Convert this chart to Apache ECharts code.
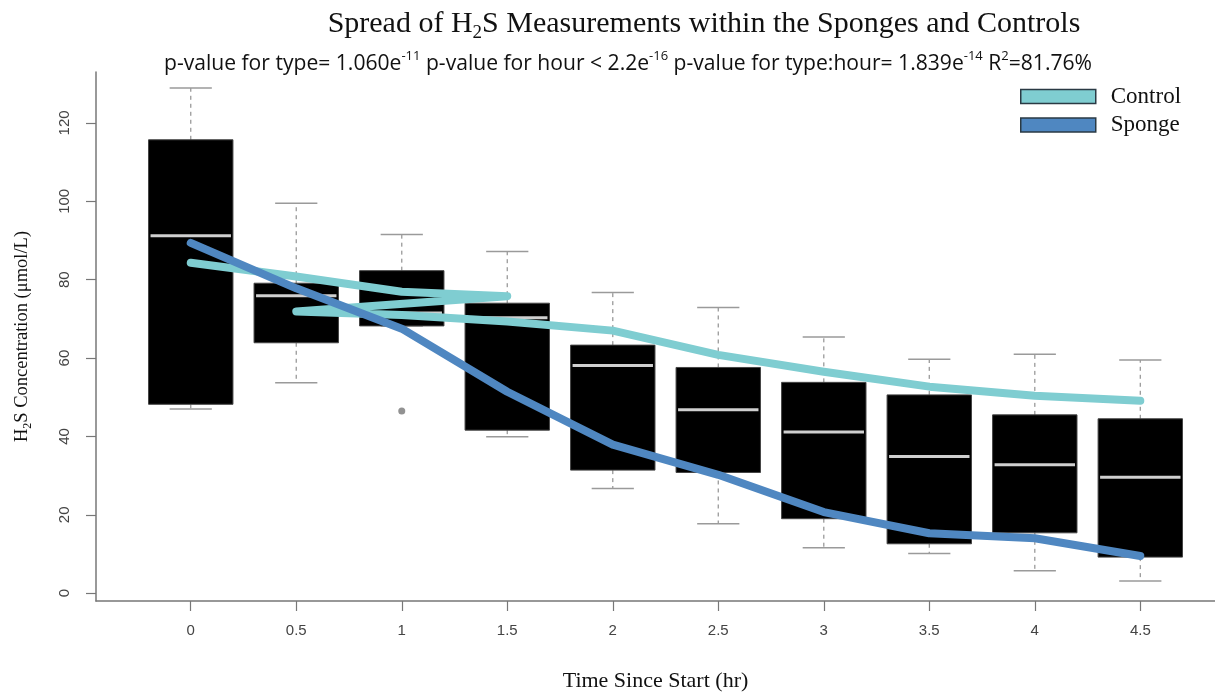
<!DOCTYPE html>
<html>
<head>
<meta charset="utf-8">
<script src="https://cdn.jsdelivr.net/npm/echarts@6/dist/echarts.min.js"></script>
<style>
html,body{margin:0;padding:0;background:#fff;}
#chart{width:1215px;height:694px;}
</style>
</head>
<body>
<div id="chart"></div>
<script>
// ---- data ----
const hours = [0, 0.5, 1, 1.5, 2, 2.5, 3, 3.5, 4, 4.5];
const tickLabels = ['0', '0.5', '1', '1.5', '2', '2.5', '3', '3.5', '4', '4.5'];
const yTicks = [0, 20, 40, 60, 80, 100, 120];
// boxplot stats per hour: [min, Q1, median, Q3, max]
const boxMin    = [47.0, 53.7, 68.2, 39.9, 26.7, 17.7, 11.6, 10.1, 5.7, 3.1];
const boxQ1     = [48.2, 63.9, 68.2, 41.6, 31.4, 30.8, 19.0, 12.6, 15.4, 9.2];
const boxMedian = [91.2, 75.9, 71.5, 70.3, 58.1, 46.8, 41.1, 34.9, 32.8, 29.6];
const boxQ3     = [115.7, 79.1, 82.3, 74.0, 63.3, 57.6, 53.8, 50.6, 45.5, 44.5];
const boxMax    = [128.9, 99.5, 91.5, 87.2, 76.7, 72.9, 65.4, 59.7, 61.0, 59.5];
const outliers  = [[1, 46.5]];
// smoothed trend lines
const controlX = [0, 0.5, 1, 1.5, 0.5, 1, 1.5, 2, 2.5, 3, 3.5, 4, 4.5];
const controlY = [84.3, 80.8, 76.9, 75.8, 71.9, 71.0, 69.3, 67.0, 60.8, 56.5, 52.7, 50.4, 49.1];
const spongeX  = [0, 0.5, 1, 1.5, 2, 2.5, 3, 3.5, 4, 4.5];
const spongeY  = [89.4, 77.8, 67.5, 51.4, 37.9, 30.2, 20.7, 15.3, 14.0, 9.5];

const boxData = hours.map((h, i) => [h, boxMin[i], boxQ1[i], boxMedian[i], boxQ3[i], boxMax[i]]);
const controlData = controlX.map((x, i) => [x, controlY[i]]);
const spongeData = spongeX.map((x, i) => [x, spongeY[i]]);

const BOX_W = 0.4;   // in hours
const CAP_W = 0.2;

function renderBox(params, api) {
  const x = api.value(0);
  const lo = api.coord([x, api.value(1)]);
  const q1 = api.coord([x, api.value(2)]);
  const md = api.coord([x, api.value(3)]);
  const q3 = api.coord([x, api.value(4)]);
  const hi = api.coord([x, api.value(5)]);
  const hw = api.size([BOX_W, 0])[0] / 2;
  const cw = api.size([CAP_W, 0])[0] / 2;
  const cx = lo[0];
  const wStyle = {stroke: '#9a9a9a', lineWidth: 1.3, lineDash: [4, 4]};
  const cStyle = {stroke: '#9a9a9a', lineWidth: 1.5};
  return {
    type: 'group',
    children: [
      {type: 'line', shape: {x1: cx, y1: q3[1], x2: cx, y2: hi[1]}, style: wStyle},
      {type: 'line', shape: {x1: cx, y1: q1[1], x2: cx, y2: lo[1]}, style: wStyle},
      {type: 'line', shape: {x1: cx - cw, y1: hi[1], x2: cx + cw, y2: hi[1]}, style: cStyle},
      {type: 'line', shape: {x1: cx - cw, y1: lo[1], x2: cx + cw, y2: lo[1]}, style: cStyle},
      {type: 'rect', shape: {x: cx - hw, y: q3[1], width: hw * 2, height: q1[1] - q3[1]},
        style: {fill: '#000', stroke: '#444', lineWidth: 1}},
      {type: 'line', shape: {x1: cx - hw + 2, y1: md[1], x2: cx + hw - 2, y2: md[1]},
        style: {stroke: '#cfcfcf', lineWidth: 3}}
    ]
  };
}

const chart = echarts.init(document.getElementById('chart'), null, {renderer: 'canvas'});
const option = {
  backgroundColor: '#fff',
  animation: false,
  title: [
    {
      text: '{a|Spread of H}{s|2}{a|S Measurements within the Sponges and Controls}',
      left: 699, top: 0, textAlign: 'center',
      textStyle: {
        fontWeight: 'normal',
        rich: {
          a: {fontFamily: 'Liberation Serif', fontSize: 30, fontWeight: 'normal', color: '#111', lineHeight: 38},
          s: {fontFamily: 'Liberation Serif', fontSize: 19, fontWeight: 'normal', color: '#111', lineHeight: 19, verticalAlign: 'bottom'}
        }
      }
    },
    {
      text: '{a|p-value for type= 1.060e}{p|-11}{a| p-value for hour < 2.2e}{p|-16}{a| p-value for type:hour= 1.839e}{p|-14}{a| R}{p|2}{a|=81.76%}',
      left: 623, top: 45, textAlign: 'center',
      textStyle: {
        fontWeight: 'normal',
        rich: {
          a: {fontFamily: 'Open Sans', fontSize: 21.1, fontWeight: 'normal', color: '#111', lineHeight: 28},
          p: {fontFamily: 'Open Sans', fontSize: 13, fontWeight: 'normal', color: '#111', lineHeight: 13, verticalAlign: 'top'}
        }
      }
    }
  ],
  legend: {
    orient: 'vertical',
    left: 1020, top: 85, padding: 0,
    icon: 'rect',
    itemWidth: 75, itemHeight: 14, itemGap: 5.5,
    itemStyle: {borderColor: '#2a3a44', borderWidth: 1.5},
    textStyle: {fontFamily: 'Liberation Serif', fontSize: 23, lineHeight: 23, color: '#111', padding: [0, 0, 0, 10]},
    data: ['Control', 'Sponge']
  },
  grid: {left: 96, right: 0, top: 72, bottom: 93, containLabel: false, outerBoundsMode: 'none'},
  xAxis: {
    type: 'value',
    min: -0.449, max: 4.854,
    name: 'Time Since Start (hr)',
    nameLocation: 'middle', nameGap: 69,
    nameTextStyle: {fontFamily: 'Liberation Serif', fontSize: 22, color: '#111'},
    axisLine: {show: true, onZero: false, lineStyle: {color: '#777', width: 1.5}},
    axisTick: {show: true, length: 10, customValues: hours, lineStyle: {color: '#777', width: 1.2}},
    axisLabel: {
      customValues: hours,
      formatter: v => tickLabels[hours.indexOf(Math.round(v * 2) / 2)],
      fontFamily: 'Liberation Sans Narrow, Liberation Sans', fontSize: 15, color: '#444', margin: 22
    },
    splitLine: {show: false}
  },
  yAxis: {
    type: 'value',
    min: -2, max: 133,
    name: '{a|H}{s|2}{a|S Concentration (μmol/L)}',
    nameLocation: 'middle', nameGap: 62, nameRotate: 90,
    nameTextStyle: {
      rich: {
        a: {fontFamily: 'Liberation Serif', fontSize: 18.5, color: '#111', lineHeight: 24},
        s: {fontFamily: 'Liberation Serif', fontSize: 12, color: '#111', lineHeight: 12, verticalAlign: 'bottom'}
      }
    },
    axisLine: {show: true, onZero: false, lineStyle: {color: '#777', width: 1.5}},
    axisTick: {show: true, length: 10, customValues: yTicks, lineStyle: {color: '#777', width: 1.2}},
    axisLabel: {
      customValues: yTicks,
      rotate: 90,
      fontFamily: 'Liberation Sans Narrow, Liberation Sans', fontSize: 15, color: '#444', margin: 24
    },
    splitLine: {show: false}
  },
  series: [
    {
      type: 'custom',
      name: 'Boxes',
      renderItem: renderBox,
      encode: {x: 0, y: [1, 2, 3, 4, 5]},
      data: boxData,
      z: 1
    },
    {
      type: 'scatter',
      name: 'Outliers',
      data: outliers,
      symbolSize: 7,
      itemStyle: {color: '#777'},
      z: 2
    },
    {
      type: 'line',
      name: 'Control',
      data: controlData,
      showSymbol: false,
      smooth: false,
      color: '#7fcdd1',
      itemStyle: {color: '#7fcdd1'},
      lineStyle: {color: '#7fcdd1', width: 8, cap: 'round', join: 'round'},
      z: 3
    },
    {
      type: 'line',
      name: 'Sponge',
      data: spongeData,
      showSymbol: false,
      smooth: false,
      color: '#4f87c1',
      itemStyle: {color: '#4f87c1'},
      lineStyle: {color: '#4f87c1', width: 8, cap: 'round', join: 'round'},
      z: 4
    }
  ]
};
chart.setOption(option);
</script>
</body>
</html>
